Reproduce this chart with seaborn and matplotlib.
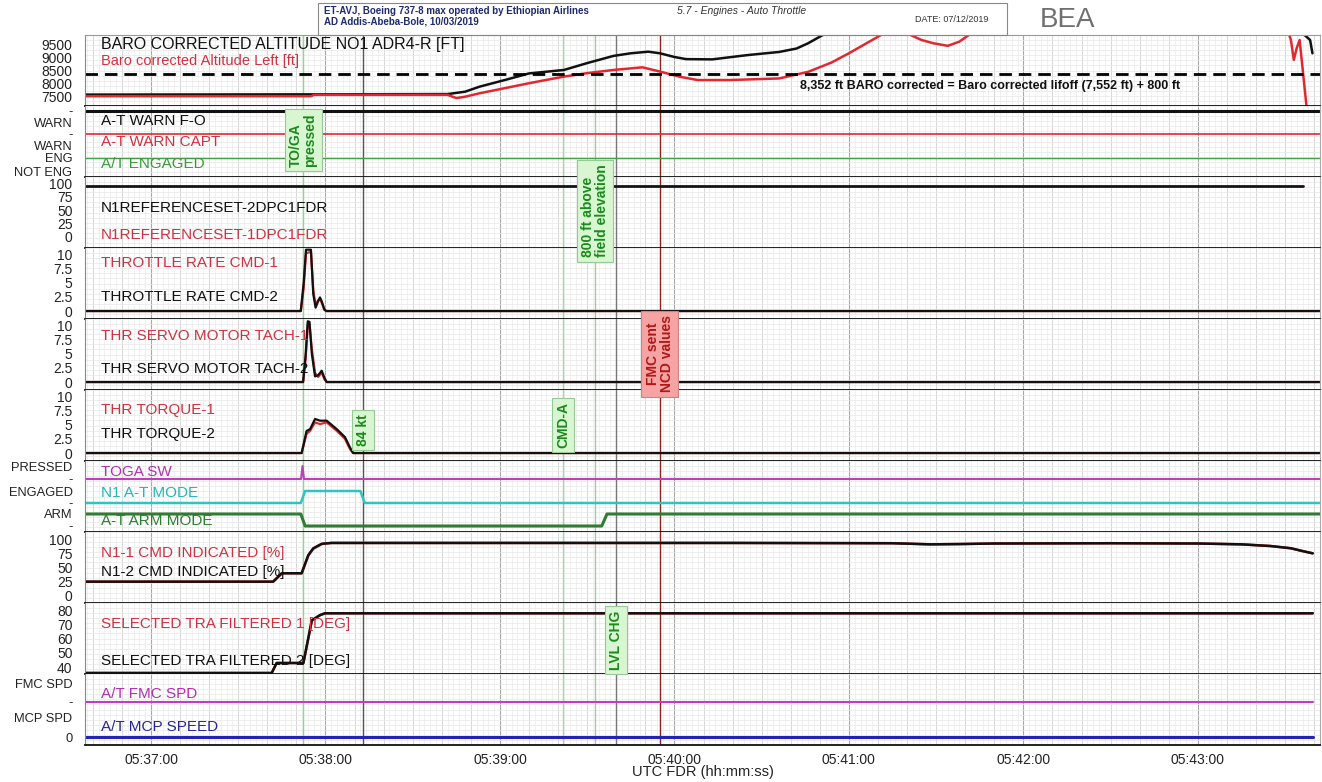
# FDR parameter plot - Engines / Auto Throttle (ET-AVJ)
import numpy as np
import seaborn as sns
import matplotlib.pyplot as plt
from matplotlib.ticker import MultipleLocator, FuncFormatter
from matplotlib.transforms import blended_transform_factory
from matplotlib.patches import Rectangle

sns.set_style("white")
plt.rcParams['font.family'] = ['Liberation Sans', 'DejaVu Sans']

# ---- data: time in seconds after 05:37:00 ----
alt_black_t = [-23, 55, 102, 108, 113, 122, 130, 142, 150, 159, 165, 171, 175, 180, 184, 193,
               205, 216, 222, 226, 232, 240, 300, 390, 398.6, 399.4]
alt_black = [7590, 7600, 7610, 7700, 7890, 8150, 8390, 8520, 8780, 9050, 9150, 9210, 9150, 9010,
             8930, 8920, 9080, 9200, 9330, 9530, 9900, 10300, 10800, 10500, 9650, 9150]
alt_red_t = [-23, 55, 56, 102, 105, 108, 113, 122, 130, 142, 150, 159, 169, 175, 182, 188, 199,
             216, 226, 234, 240, 244, 252, 256, 260, 265, 269, 274, 278, 282, 290, 340, 390,
             392, 393, 394, 395, 397.5]
alt_red = [7530, 7530, 7580, 7580, 7460, 7510, 7640, 7840, 8020, 8270, 8400, 8520, 8620, 8460,
           8260, 8140, 8140, 8200, 8450, 8800, 9150, 9400, 9900, 10050, 9900, 9650, 9530, 9430,
           9590, 9900, 10300, 10800, 10300, 9650, 8900, 9350, 9650, 7000]
alt_target = 8352

warn_t = [-23, 402]
warn_fo = [0, 0]
warn_capt = [0, 0]
at_engaged = [1, 1]

n1ref_t = [-23, 396]
n1ref_1 = [95, 95]
n1ref_2 = [95, 95]

thr_t = [-23, 51.5, 52.5, 53.3, 55.0, 55.8, 56.6, 57.3, 58.1, 58.8, 59.6, 60.3, 402]
thr_rate_1 = [0, 0, 4.0, 10.2, 10.4, 3.6, 1.0, 1.8, 2.2, 1.3, 0.2, 0, 0]
thr_rate_2 = [0, 0, 5.0, 10.8, 10.8, 3.0, 0.6, 1.5, 2.4, 1.6, 0.3, 0, 0]

servo_t = [-23, 52.3, 53.2, 53.9, 54.5, 55.3, 56.4, 57.5, 58.7, 59.6, 60.4, 402]
servo_1 = [0, 0, 4.2, 10.0, 10.2, 5.8, 1.6, 0.9, 1.7, 0.5, 0, 0]
servo_2 = [0, 0, 5.0, 10.7, 10.6, 5.0, 1.0, 1.2, 2.0, 0.8, 0, 0]

torque_t = [-23, 51.8, 53.5, 54.7, 56.4, 58.1, 60.4, 63.9, 66.7, 68.4, 69.5, 402]
torque_1 = [0, 0, 3.4, 3.9, 5.4, 5.1, 5.4, 3.9, 2.5, 0.7, 0, 0]
torque_2 = [0, 0, 3.9, 4.2, 6.0, 5.7, 5.7, 4.2, 2.8, 1.0, 0, 0]

toga_t = [-23, 51.6, 52.1, 52.6, 402]
toga_sw = [0, 0, 1, 0, 0]
n1mode_t = [-23, 51.5, 53, 72, 73.5, 402]
n1_at_mode = [0, 0, 1, 1, 0, 0]
arm_t = [-23, 51.5, 53, 155, 156.8, 402]
at_arm = [1, 1, 0, 0, 1, 1]

n1cmd_t = [-23, 42, 45, 51.8, 54.1, 55.8, 58.7, 62, 120, 200, 255, 268, 278, 290, 330, 360,
           375, 385, 392, 396, 399.5]
n1cmd_1 = [25.5, 25.5, 40.5, 40.5, 72, 84, 92.5, 94.5, 94.5, 94.5, 94, 92, 92.5, 93.5, 94,
           93.5, 92, 89, 85, 80, 76]
n1cmd_2 = [25.5, 25.5, 40.5, 40.5, 73, 85, 93, 94.5, 94.5, 94.5, 94, 92, 92.5, 93.5, 94,
           93.5, 92, 89, 85, 80, 76]

tra_t = [-23, 41.5, 43.2, 52.4, 55.3, 58.1, 59.8, 399.5]
tra_1 = [36, 36, 43, 43, 72.5, 76.5, 77.8, 77.8]
tra_2 = [36, 36, 43, 43, 73, 76.5, 77.8, 77.8]

spd_t = [-23, 399.5]
fmc_spd = [0, 0]
mcp_spd = [0, 0]

# events: TO/GA, 84 kt, CMD-A, 800 ft, LVL CHG, FMC NCD
event_t = [52.3, 72.9, 141.7, 152.7, 160.0, 175.0]
event_col = ['#8fd88f', '#555555', '#9fdc9f', '#a8c8a0', '#777777', '#8b2020']

minute_labels = ['05:37:00', '05:38:00', '05:39:00', '05:40:00', '05:41:00', '05:42:00', '05:43:00']

# ---- figure ----
W, H = 1322, 782
fig = plt.figure(figsize=(W / 100, H / 100), dpi=100)
fy = lambda py: 1 - py / H
fx = lambda px: px / W

RED = '#e0282f'
TRED = '#cc3340'
BLACK = '#111111'

axes = []
for i in range(10):
    ax = fig.add_axes([fx(85), fy(35 + 71 * (i + 1)), (1320 - 85) / W, 71 / H],
                      sharex=axes[0] if axes else None)
    axes.append(ax)

def line(ax, t, v, color, lw=1.8):
    sns.lineplot(x=t, y=v, ax=ax, color=color, linewidth=lw, estimator=None,
                 sort=False, legend=False)

# altitude
a = axes[0]
line(a, alt_black_t, alt_black, BLACK, 1.8)
line(a, alt_red_t, alt_red, RED, 1.8)
a.axhline(alt_target, color='black', lw=2, dashes=(4.5, 2.5))
a.set_ylim(7160, 9840)
a.set_yticks([7500, 8000, 8500, 9000, 9500])

# warnings / engaged
a = axes[1]
lv_fo = {0: 66, 1: 55}
lv_capt = {0: 43, 1: 31}
lv_eng = {0: 6, 1: 19}
line(a, warn_t, [lv_fo[s] for s in warn_fo], BLACK, 2.2)
line(a, warn_t, [lv_capt[s] for s in warn_capt], RED, 1.2)
line(a, warn_t, [lv_eng[s] for s in at_engaged], '#3aa83a', 1.0)
a.set_ylim(0, 71)
a.set_yticks([66, 55, 43, 31, 19, 6], ['-', 'WARN', '-', 'WARN', 'ENG', 'NOT ENG'])

# N1 reference
a = axes[2]
line(a, n1ref_t, n1ref_1, RED)
line(a, n1ref_t, n1ref_2, BLACK)
a.set_ylim(-21, 112)
a.set_yticks([0, 25, 50, 75, 100])

for a, t, v1, v2 in [(axes[3], thr_t, thr_rate_1, thr_rate_2),
                     (axes[4], servo_t, servo_1, servo_2),
                     (axes[5], torque_t, torque_1, torque_2)]:
    line(a, t, v1, RED, 1.6)
    line(a, t, v2, BLACK, 1.6)
    a.set_ylim(-1.4, 11.1)
    a.set_yticks([0, 2.5, 5, 7.5, 10], ['0', '2.5', '5', '7.5', '10'])

# discretes
a = axes[6]
lv_toga = {0: 53, 1: 66}
lv_n1m = {0: 29, 1: 41}
lv_arm = {0: 6, 1: 18}
line(a, toga_t, [lv_toga[s] for s in toga_sw], '#c23cc2', 1.5)
line(a, n1mode_t, [lv_n1m[s] for s in n1_at_mode], '#2ec4c4', 1.8)
line(a, arm_t, [lv_arm[s] for s in at_arm], '#2e7d32', 2.2)
a.set_ylim(0, 71)
a.set_yticks([66, 53, 41, 29, 18, 6], ['PRESSED', '-', 'ENGAGED', '-', 'ARM', '-'])

# N1 cmd
a = axes[7]
line(a, n1cmd_t, n1cmd_1, RED)
line(a, n1cmd_t, n1cmd_2, BLACK)
a.set_ylim(-12.5, 114)
a.set_yticks([0, 25, 50, 75, 100])

# TRA
a = axes[8]
line(a, tra_t, tra_1, RED)
line(a, tra_t, tra_2, BLACK)
a.set_ylim(35.3, 85)
a.set_yticks([40, 50, 60, 70, 80])

# speeds
a = axes[9]
lv_fmc = {0: 43}
lv_mcp = {0: 8}
line(a, spd_t, [lv_fmc[s] for s in fmc_spd], '#c23cc2', 1.5)
line(a, spd_t, [lv_mcp[s] for s in mcp_spd], '#2323b8', 2.2)
a.set_ylim(0, 71)
a.set_yticks([62, 43, 27, 8], ['FMC SPD', '-', 'MCP SPD', '0'])

# ---- common styling ----
for i, a in enumerate(axes):
    a.set_xlim(-22.7, 402)
    a.xaxis.set_major_locator(MultipleLocator(60))
    a.xaxis.set_minor_locator(MultipleLocator(10))
    a.vlines(np.arange(-22, 402, 2), 0, 1, transform=a.get_xaxis_transform(),
             color='#ececec', lw=0.5, zorder=0)
    a.vlines(np.arange(-20, 402, 10), 0, 1, transform=a.get_xaxis_transform(),
             color='#d4d4d4', lw=0.6, zorder=0)
    a.vlines(np.arange(0, 402, 60), 0, 1, transform=a.get_xaxis_transform(),
             color='#a8a8a8', lw=0.8, zorder=0)
    a.hlines(np.linspace(0, 1, 15), 0, 1, transform=a.transAxes,
             color='#e8e8e8', lw=0.5, zorder=0)
    for t, c in zip(event_t, event_col):
        a.axvline(t, color=c, lw=1.0, zorder=1)
    a.set_xlabel('')
    a.set_ylabel('')
    a.tick_params(axis='x', which='major', direction='inout', length=11, width=1.0,
                  color='#222222', labelbottom=False)
    a.tick_params(axis='x', which='minor', direction='inout', length=9, width=0.9,
                  color='#333333')
    lsize = 9.3 if i in (1, 6, 9) else 10
    a.tick_params(axis='y', direction='out', length=7, width=0.8, color='#777777',
                  labelsize=lsize, labelcolor='#222222', pad=2)
    a.spines['bottom'].set_color('#111111')
    a.spines['bottom'].set_linewidth(1.3)
    a.spines['top'].set_visible(i == 0)
    a.spines['top'].set_color('#999999')
    a.spines['left'].set_color('#888888')
    a.spines['right'].set_color('#aaaaaa')
    a.set_facecolor('white')

last = axes[-1]
last.xaxis.set_major_formatter(FuncFormatter(lambda v, p: minute_labels[int(round(v / 60))]
                                             if 0 <= round(v / 60) < len(minute_labels) else ''))
last.tick_params(axis='x', which='major', labelbottom=True, labelsize=10, pad=0,
                 labelcolor='#222222')
last.set_xlabel('UTC FDR (hh:mm:ss)', fontsize=10.5, color='#222222')
last.xaxis.set_label_coords(0.5, -(772 - 745) / 71)
last.xaxis.label.set_va('center')

# ---- parameter names inside panels ----
names = [
    ('BARO CORRECTED ALTITUDE NO1 ADR4-R [FT]', 45, BLACK, 11.5),
    ('Baro corrected Altitude Left [ft]', 61, TRED, 10.5),
    ('A-T WARN F-O', 121, BLACK, 11),
    ('A-T WARN CAPT', 142, TRED, 11),
    ('A/T ENGAGED', 164, '#3a9a3a', 11),
    ('N1REFERENCESET-2DPC1FDR', 208, BLACK, 11),
    ('N1REFERENCESET-1DPC1FDR', 235, TRED, 11),
    ('THROTTLE RATE CMD-1', 263, TRED, 11),
    ('THROTTLE RATE CMD-2', 297, BLACK, 11),
    ('THR SERVO MOTOR TACH-1', 336, TRED, 11),
    ('THR SERVO MOTOR TACH-2', 369, BLACK, 11),
    ('THR TORQUE-1', 410, TRED, 11),
    ('THR TORQUE-2', 434, BLACK, 11),
    ('TOGA SW', 472, '#b030b0', 11),
    ('N1 A-T MODE', 493, '#25b5b5', 11),
    ('A-T ARM MODE', 521, '#2e7d32', 11),
    ('N1-1 CMD INDICATED [%]', 553, TRED, 11),
    ('N1-2 CMD INDICATED [%]', 572, BLACK, 11),
    ('SELECTED TRA FILTERED 1 [DEG]', 624, TRED, 11),
    ('SELECTED TRA FILTERED 2 [DEG]', 661, BLACK, 11),
    ('A/T FMC SPD', 694, '#b030b0', 11),
    ('A/T MCP SPEED', 727, '#262690', 11),
]
for s, py, c, fs in names:
    fig.text(fx(101), fy(py), s, color=c, fontsize=fs, va='center', ha='left')

# target altitude note
fig.text(fx(800), fy(86), '8,352 ft BARO corrected = Baro corrected lifoff (7,552 ft) + 800 ft',
         fontsize=9, fontweight='bold', color='#111111', va='center')

# ---- event boxes ----
tr = blended_transform_factory(last.transData, fig.transFigure)
green_box = dict(boxstyle='square,pad=0.3', facecolor='#d8f6d2', edgecolor='#98c898', lw=0.8)
red_box = dict(boxstyle='square,pad=0.3', facecolor='#f5a3a3', edgecolor='#cf8080', lw=0.8)
boxes = [
    ('TO/GA\npressed', event_t[0], 140, green_box, '#1c8a1c', 'left'),
    ('84 kt', event_t[1], 430, green_box, '#1c8a1c', 'center'),
    ('CMD-A', event_t[2], 425, green_box, '#1c8a1c', 'center'),
    ('800 ft above\nfield elevation', event_t[3], 211, green_box, '#1c8a1c', 'left'),
    ('LVL CHG', event_t[4], 640, green_box, '#1c8a1c', 'center'),
    ('FMC sent\nNCD values', event_t[5], 354, red_box, '#b01818', 'center'),
]
for s, t, py, bb, c, ma in boxes:
    fig.text(t, fy(py), s, transform=tr, rotation=90, ha='center', va='center',
             multialignment=ma, fontsize=10, fontweight='bold', color=c, bbox=bb,
             linespacing=1.05, zorder=10)

# ---- header ----
fig.patches.append(Rectangle((fx(318), fy(35)), (1007 - 318) / W, 32 / H,
                             transform=fig.transFigure, fill=False,
                             edgecolor='#888888', lw=0.8))
fig.text(fx(324), fy(11), 'ET-AVJ, Boeing 737-8 max operated by Ethiopian Airlines',
         fontsize=7, fontweight='bold', color='#1f2a70', va='center')
fig.text(fx(324), fy(22), 'AD Addis-Abeba-Bole, 10/03/2019',
         fontsize=7, fontweight='bold', color='#1f2a70', va='center')
fig.text(fx(677), fy(11), '5.7 - Engines - Auto Throttle', fontsize=7.5, style='italic',
         color='#333333', va='center')
fig.text(fx(915), fy(19), 'DATE: 07/12/2019', fontsize=6.5, color='#333333', va='center')
fig.text(fx(1040), fy(20), 'BEA', fontsize=20, color='#707070', va='center')

fig.savefig('out.png', dpi=100)
